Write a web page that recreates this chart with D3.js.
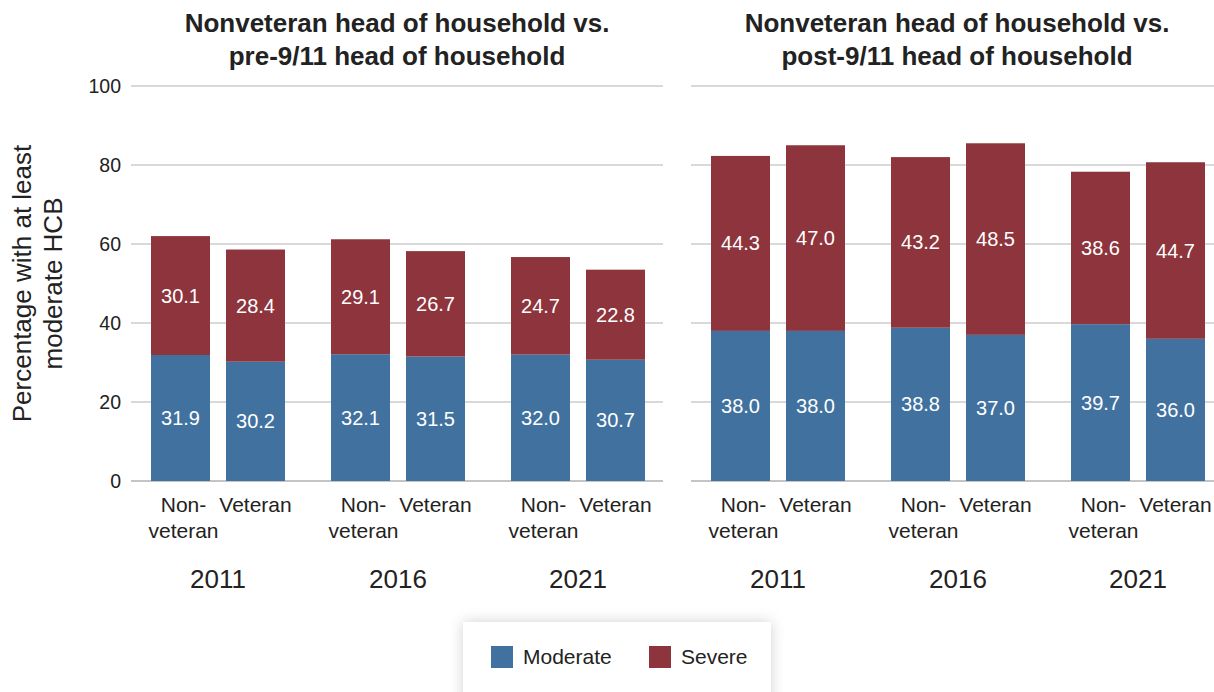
<!DOCTYPE html>
<html>
<head>
<meta charset="utf-8">
<script src="https://cdn.jsdelivr.net/npm/d3@7"></script>
<style>
  html, body { margin: 0; padding: 0; background: #fff; }
  svg { display: block; font-family: "Liberation Sans", Arial, Helvetica, sans-serif; }
</style>
</head>
<body>
<svg id="chart" width="1214" height="692"></svg>
<script>
// Survey years and household groups
const years = ["2011", "2016", "2021"];
const groups = ["Nonveteran", "Veteran"];
const groupLabels = [["Non-", "veteran"], ["Veteran"]];
const seriesNames = ["Moderate", "Severe"];
const yTicks = [0, 20, 40, 60, 80, 100];

// Panel 1: nonveteran vs. pre-9/11 veteran heads of household (order: year x group)
const preModerate = [31.9, 30.2, 32.1, 31.5, 32.0, 30.7];
const preSevere   = [30.1, 28.4, 29.1, 26.7, 24.7, 22.8];

// Panel 2: nonveteran vs. post-9/11 veteran heads of household
const postModerate = [38.0, 38.0, 38.8, 37.0, 39.7, 36.0];
const postSevere   = [44.3, 47.0, 43.2, 48.5, 38.6, 44.7];

const panelTitles = [
  ["Nonveteran head of household vs.", "pre-9/11 head of household"],
  ["Nonveteran head of household vs.", "post-9/11 head of household"]
];

const colors = { Moderate: "#41729f", Severe: "#8d343c" };

const svg = d3.select("#chart");

const y = d3.scaleLinear().domain([0, 100]).range([481, 86]);

const panels = [
  { grid: [131, 663], bars: [151, 645], moderate: preModerate, severe: preSevere, title: panelTitles[0], axis: true },
  { grid: [691, 1214], bars: [711, 1205], moderate: postModerate, severe: postSevere, title: panelTitles[1], axis: false }
];

panels.forEach(p => {
  const g = svg.append("g");

  // Gridlines
  g.selectAll("line.grid").data(yTicks).join("line")
    .attr("x1", p.grid[0]).attr("x2", p.grid[1])
    .attr("y1", d => y(d)).attr("y2", d => y(d))
    .attr("stroke", d => d === 0 ? "#b0b0b0" : "#cccccc")
    .attr("stroke-width", 1.5);

  if (p.axis) {
    const ax = g.append("g").attr("transform", `translate(${p.grid[0]},0)`)
      .call(d3.axisLeft(y).tickValues(yTicks).tickSize(0).tickPadding(10));
    ax.select(".domain").remove();
    ax.selectAll("text")
      .attr("font-size", 19.5).attr("fill", "#222")
      .style("font-family", "\"Liberation Sans\", Arial, sans-serif");
  }

  const x0 = d3.scaleBand().domain(years).range(p.bars).paddingInner(46 / 180).paddingOuter(0);
  const x1 = d3.scaleBand().domain(groups).range([0, x0.bandwidth()]).paddingInner(16 / 75).paddingOuter(0);

  const rows = [];
  years.forEach((yr, i) => groups.forEach((grp, j) => {
    const k = i * groups.length + j;
    rows.push({ year: yr, group: grp, gi: j, moderate: p.moderate[k], severe: p.severe[k] });
  }));

  const stack = d3.stack().keys(["moderate", "severe"]);
  const layers = stack(rows);

  layers.forEach((layer, li) => {
    const name = seriesNames[li];
    g.selectAll(null).data(layer).join("rect")
      .attr("x", d => x0(d.data.year) + x1(d.data.group))
      .attr("width", x1.bandwidth())
      .attr("y", d => y(d[1]))
      .attr("height", d => y(d[0]) - y(d[1]))
      .attr("fill", colors[name]);

    g.selectAll(null).data(layer).join("text")
      .attr("x", d => x0(d.data.year) + x1(d.data.group) + x1.bandwidth() / 2)
      .attr("y", d => y((d[0] + d[1]) / 2))
      .attr("dy", "0.35em")
      .attr("text-anchor", "middle")
      .attr("fill", "#ffffff")
      .attr("font-size", 20)
      .text(d => (d[1] - d[0]).toFixed(1));
  });

  // Group labels under each bar (the two-line label sits a little right of centre)
  rows.forEach(r => {
    const cx = x0(r.year) + x1(r.group) + x1.bandwidth() / 2 + (r.gi === 0 ? 3 : 0);
    const t = g.append("text").attr("text-anchor", "middle").attr("font-size", 21).attr("fill", "#222");
    groupLabels[r.gi].forEach((line, li) => {
      t.append("tspan").attr("x", cx).attr("y", 511.5 + li * 26.5).text(line);
    });
  });

  // Year labels
  g.selectAll("text.year").data(years).join("text")
    .attr("x", d => x0(d) + x0.bandwidth() / 2)
    .attr("y", 588)
    .attr("text-anchor", "middle")
    .attr("font-size", 26)
    .attr("fill", "#222")
    .text(d => d);

  // Panel title
  const cx = (p.bars[0] + p.bars[1]) / 2 - 1;
  const tt = g.append("text").attr("text-anchor", "middle").attr("font-size", 26)
    .attr("font-weight", "bold").attr("fill", "#222");
  p.title.forEach((line, li) => {
    tt.append("tspan").attr("x", cx).attr("y", 31.5 + li * 33).text(line);
  });
});

// Y-axis title
const yt = svg.append("text")
  .attr("transform", `translate(0,${(y(0) + y(100)) / 2}) rotate(-90)`)
  .attr("text-anchor", "middle").attr("font-size", 26).attr("fill", "#222");
yt.append("tspan").attr("x", 0).attr("y", 31).text("Percentage with at least");
yt.append("tspan").attr("x", 0).attr("y", 62).text("moderate HCB");

// Legend with soft shadow
const defs = svg.append("defs");
const f = defs.append("filter").attr("id", "legendShadow")
  .attr("x", "-20%").attr("y", "-40%").attr("width", "140%").attr("height", "180%");
f.append("feDropShadow").attr("dx", 0).attr("dy", 0).attr("stdDeviation", 7)
  .attr("flood-color", "#000").attr("flood-opacity", 0.18);

const legend = svg.append("g");
legend.append("rect")
  .attr("x", 463).attr("y", 622).attr("width", 308).attr("height", 90)
  .attr("fill", "#fff").attr("filter", "url(#legendShadow)");

const legendX = [491, 649];
seriesNames.forEach((name, i) => {
  legend.append("rect").attr("x", legendX[i]).attr("y", 646).attr("width", 22).attr("height", 22)
    .attr("fill", colors[name]);
  legend.append("text").attr("x", legendX[i] + 32).attr("y", 663.5)
    .attr("font-size", 21).attr("fill", "#222").text(name);
});
</script>
</body>
</html>
